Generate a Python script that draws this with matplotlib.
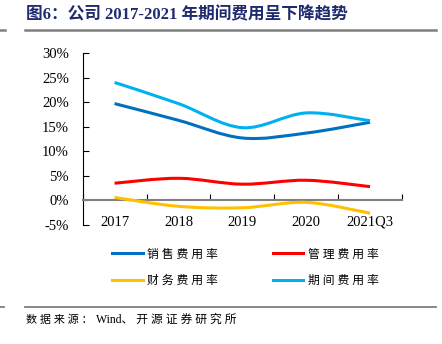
import numpy as np
import matplotlib
matplotlib.use('Agg')
import matplotlib.pyplot as plt
from matplotlib.path import Path
from matplotlib.patches import PathPatch
from matplotlib.lines import Line2D
from matplotlib.ticker import FuncFormatter

plt.rcParams['font.family'] = ['Liberation Serif', 'Noto Sans CJK SC']

years = ['2017', '2018', '2019', '2020', '2021Q3']
sales_rate = [19.7, 16.3, 12.7, 13.7, 15.9]
admin_rate = [3.5, 4.5, 3.3, 4.1, 2.8]
finance_rate = [0.6, -1.2, -1.5, -0.4, -2.6]
period_rate = [24.0, 19.7, 14.8, 17.8, 16.2]

series = [
    ('销售费用率', sales_rate, '#0070C0'),
    ('管理费用率', admin_rate, '#FF0000'),
    ('财务费用率', finance_rate, '#FFC000'),
    ('期间费用率', period_rate, '#00B0F0'),
]


def smooth_path(xs, ys):
    # Excel-like smoothed line: cubic bezier segments through every point
    pts = np.column_stack([xs, ys]).astype(float)
    n = len(pts)
    verts = [pts[0]]
    codes = [Path.MOVETO]
    for i in range(n - 1):
        p0 = pts[i - 1] if i > 0 else pts[i]
        p1 = pts[i]
        p2 = pts[i + 1]
        p3 = pts[i + 2] if i + 2 < n else pts[i + 1]
        c1 = p1 + (p2 - p0) / 6
        c2 = p2 - (p3 - p1) / 6
        verts += [c1, c2, p2]
        codes += [Path.CURVE4] * 3
    return Path(verts, codes)


def spaced(s):
    return ' '.join(s)


fig = plt.figure(figsize=(4.42, 3.44), dpi=100)
ax = fig.add_axes([0.187, 0.346, 0.7225, 0.5])

x = np.arange(len(years))
for name, vals, color in series:
    ax.add_patch(PathPatch(smooth_path(x, vals), facecolor='none',
                           edgecolor=color, lw=2.2, capstyle='butt', zorder=3))

ax.set_xlim(-0.5, len(years) - 0.5)
ax.set_ylim(-5, 30)
ax.set_yticks(range(-5, 31, 5))
ax.yaxis.set_major_formatter(FuncFormatter(lambda v, p: '%d%%' % v))

for s in ['top', 'right']:
    ax.spines[s].set_visible(False)
ax.spines['left'].set_linewidth(0.8)
ax.spines['bottom'].set_position(('data', 0))
ax.spines['bottom'].set_color('#808080')
ax.spines['bottom'].set_linewidth(1.5)

ax.set_xticks(np.arange(-0.5, len(years), 1))
ax.set_xticklabels([])
ax.set_xticks(x, minor=True)
ax.set_xticklabels(years, minor=True)
ax.tick_params(axis='x', which='major', direction='in', length=4, width=0.8,
               color='black')
ax.tick_params(axis='x', which='minor', length=0, pad=11, labelsize=10.5)
ax.tick_params(axis='y', direction='in', length=4, width=0.8, pad=10,
               labelsize=10.5)

# title and rules
fig.text(0.058, 0.955, '图6：公司 2017-2021 年期间费用呈下降趋势', fontsize=12,
         fontweight='bold', color='#1F2B6E', va='center', ha='left')
fig.add_artist(Line2D([0.056, 0.986], [0.914, 0.914], color='#7F7F7F', lw=1.8))
fig.add_artist(Line2D([0.0, 0.011], [0.914, 0.914], color='#7F7F7F', lw=1.8))
fig.add_artist(Line2D([0.056, 0.986], [0.108, 0.108], color='#7F7F7F', lw=1.3))
fig.add_artist(Line2D([0.0, 0.009], [0.108, 0.108], color='#7F7F7F', lw=1.3))
fig.text(0.058, 0.07, spaced('数据来源：'), fontsize=8, va='center', ha='left')
fig.text(0.218, 0.07, 'Wind' + spaced('、开源证券研究所'), fontsize=8.5,
         va='center', ha='left')

# legend: rows are (销售, 管理) and (财务, 期间); matplotlib fills by column
order = [0, 2, 1, 3]
handles = [Line2D([], [], color=series[i][2], lw=2.2) for i in order]
labels = [spaced(series[i][0]) for i in order]
fig.legend(handles, labels, loc='center left', bbox_to_anchor=(0.253, 0.222),
           ncol=2, frameon=False, fontsize=8.5, handlelength=2.6,
           handletextpad=0.42, columnspacing=4.6, labelspacing=1.2,
           borderpad=0, borderaxespad=0)

fig.savefig('out.png', dpi=100)
